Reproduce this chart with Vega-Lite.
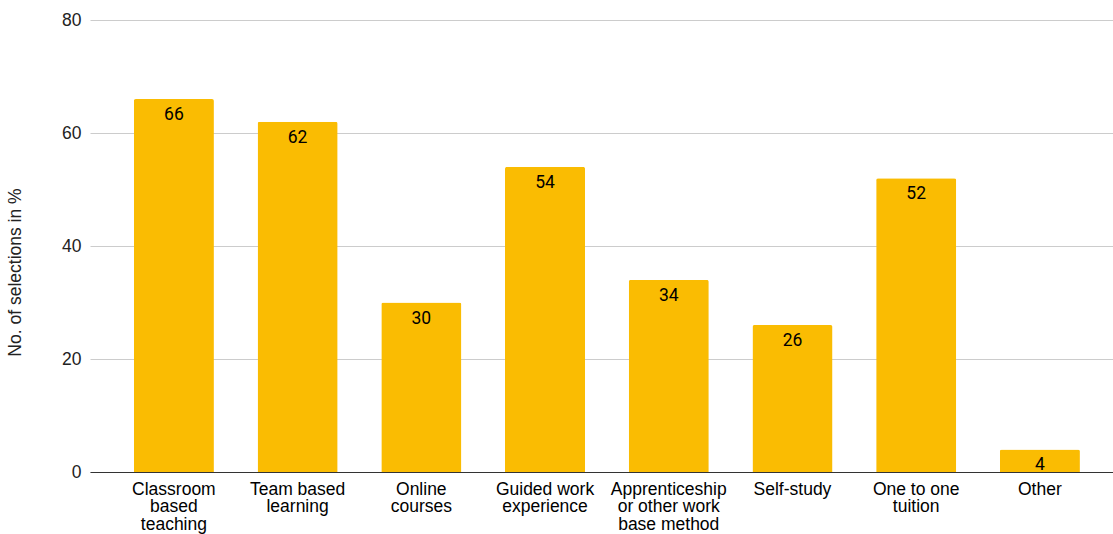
{
  "$schema": "https://vega.github.io/schema/vega-lite/v6.json",
  "width": 1023,
  "height": 452,
  "autosize": {"type": "none"},
  "padding": {"left": 90, "top": 20, "right": 0, "bottom": 62},
  "background": "white",
  "config": {
    "view": {"stroke": null},
    "font": "Liberation Sans"
  },
  "data": {
    "values": [
      {"method": "Classroom based teaching", "pct": 66},
      {"method": "Team based learning", "pct": 62},
      {"method": "Online courses", "pct": 30},
      {"method": "Guided work experience", "pct": 54},
      {"method": "Apprenticeship or other work base method", "pct": 34},
      {"method": "Self-study", "pct": 26},
      {"method": "One to one tuition", "pct": 52},
      {"method": "Other", "pct": 4}
    ]
  },
  "encoding": {
    "x": {
      "field": "method",
      "type": "nominal",
      "sort": null,
      "scale": {"paddingInner": 0.353, "paddingOuter": 0.311, "align": 0.57},
      "axis": {
        "title": null,
        "labelAngle": 0,
        "labelFontSize": 17.5,
        "labelColor": "#000",
        "labelLineHeight": 17.5,
        "labelPadding": 8,
        "labelBaseline": "top",
        "ticks": false,
        "domainColor": "#333",
        "domainWidth": 1,
        "labelExpr": "({'Classroom based teaching':['Classroom','based','teaching'],'Team based learning':['Team based','learning'],'Online courses':['Online','courses'],'Guided work experience':['Guided work','experience'],'Apprenticeship or other work base method':['Apprenticeship','or other work','base method'],'Self-study':['Self-study'],'One to one tuition':['One to one','tuition'],'Other':['Other']})[datum.label]"
      }
    },
    "y": {
      "field": "pct",
      "type": "quantitative",
      "scale": {"domain": [0, 80]},
      "axis": {
        "title": "No. of selections in %",
        "titleFontSize": 17.5,
        "titleFontWeight": "normal",
        "titleColor": "#222",
        "titlePadding": 40,
        "titleY": 252,
        "titleX": -75,
        "titleAngle": -90,
        "titleAlign": "center",
        "titleBaseline": "middle",
        "values": [0, 20, 40, 60, 80],
        "labelFontSize": 17.5,
        "labelColor": "#222",
        "labelPadding": 9,
        "ticks": false,
        "domain": false,
        "gridColor": "#cccccc"
      }
    }
  },
  "layer": [
    {
      "mark": {"type": "bar", "color": "#FABC02", "cornerRadiusTopLeft": 2, "cornerRadiusTopRight": 2}
    },
    {
      "mark": {"type": "text", "baseline": "top", "dy": 7, "fontSize": 17.5, "color": "#000", "font": "Roboto"},
      "encoding": {"text": {"field": "pct", "type": "quantitative"}}
    }
  ]
}
